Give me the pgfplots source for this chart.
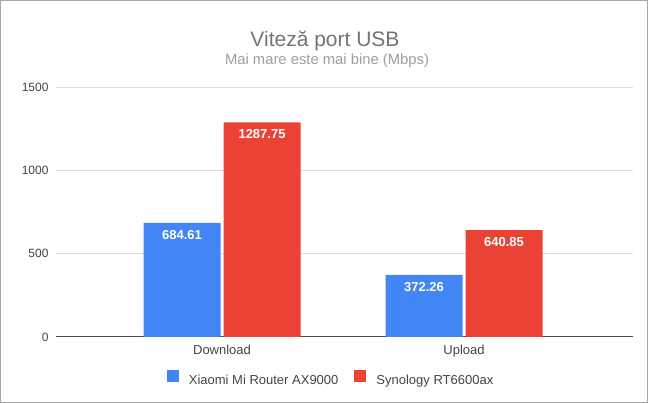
\documentclass[border=0pt]{standalone}
\usepackage{fontspec}
\setmainfont{Liberation Sans}
\usepackage{pgfplots}
\pgfplotsset{compat=1.18}
\definecolor{gblue}{HTML}{4285F4}
\definecolor{gred}{HTML}{EA4335}
\definecolor{txt}{HTML}{444444}
\definecolor{ttl}{HTML}{757575}
\definecolor{sub}{HTML}{9E9E9E}
\definecolor{grd}{HTML}{DDDDDD}
\begin{document}
\begin{tikzpicture}
\useasboundingbox (0,0) rectangle (648pt,403pt);
\fill[white] (0,0) rectangle (648pt,403pt);
\draw[black!35, line width=1pt] (0.5pt,0.5pt) rectangle (647.5pt,402.5pt);
\node[anchor=base, text=ttl, font=\fontsize{21}{25}\selectfont] at (325pt,356pt) {Viteză port USB};
\node[anchor=base, text=sub, font=\fontsize{14.8}{17}\selectfont] at (327pt,338pt) {Mai mare este mai bine (Mbps)};
\begin{axis}[
  at={(56pt,66pt)}, anchor=south west, scale only axis,
  width=577pt, height=250pt,
  ybar=3pt, bar width=77pt,
  xmin=-0.686, xmax=1.698, ymin=0, ymax=1500,
  xtick={0,1}, xticklabels={Download,Upload},
  ytick={500,1000,1500}, extra y ticks={0},
  extra y tick style={major grid style={draw=black!70, line width=1pt}},
  ymajorgrids, major grid style={draw=grd, line width=0.8pt},
  axis line style={draw=none}, major tick length=0pt,
  /pgf/number format/assume math mode=true,
  /pgf/number format/1000 sep={},
  yticklabel style={text=txt, font=\fontsize{12}{14}\selectfont, xshift=-4pt},
  xticklabel style={text=txt, font=\fontsize{13}{15}\selectfont, yshift=-5pt},
  nodes near coords,
  every node near coord/.append style={font=\bfseries\fontsize{13}{15}\selectfont, text=white, anchor=north, yshift=-4pt,
    /pgf/number format/.cd, fixed, precision=2, zerofill, 1000 sep={}},
  legend style={at={(0.475,-0.164)}, anchor=center, draw=none, fill=none,
    legend columns=2, font=\fontsize{13}{15}\selectfont, text=txt,
    nodes={inner sep=0pt},
    /tikz/every odd column/.append style={column sep=10pt},
    /tikz/every even column/.append style={column sep=16pt}},
  legend cell align=left,
]
\addplot[fill=gblue, draw=none, legend image code/.code={\fill[gblue] (0pt,-1pt) rectangle (12pt,11pt);}]
  coordinates {(0,684.61) (1,372.26)};
\addplot[fill=gred, draw=none, legend image code/.code={\fill[gred] (0pt,-1pt) rectangle (12pt,11pt);}]
  coordinates {(0,1287.75) (1,640.85)};
\legend{Xiaomi Mi Router AX9000, Synology RT6600ax}
\end{axis}
\end{tikzpicture}
\end{document}
